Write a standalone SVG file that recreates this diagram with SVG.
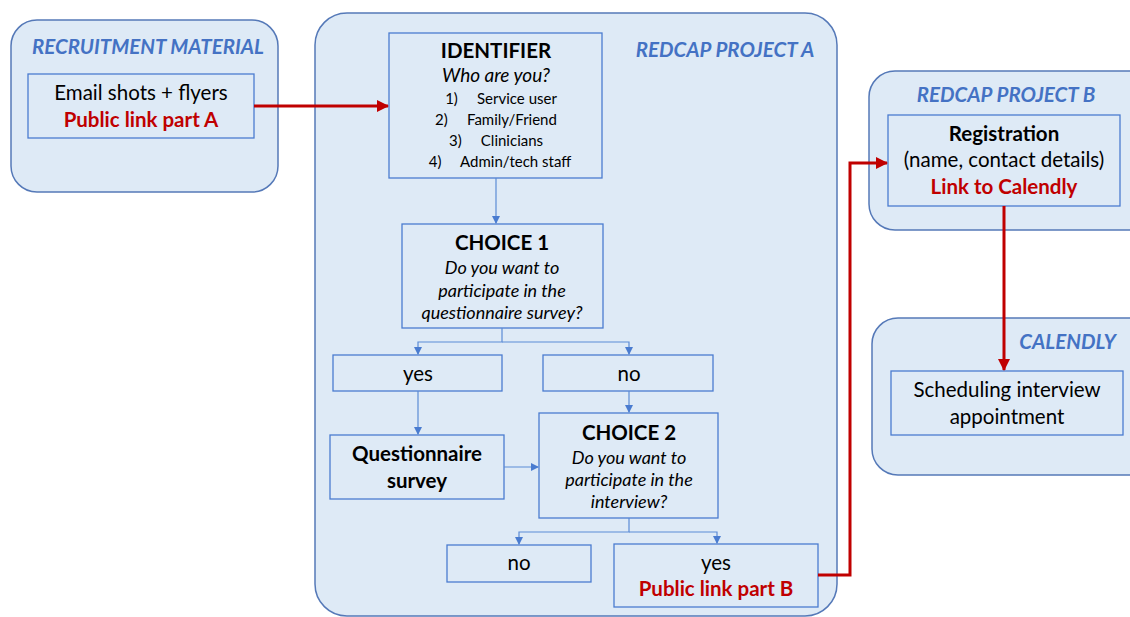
<svg xmlns="http://www.w3.org/2000/svg" width="1130" height="617" viewBox="0 0 1130 617">
<style>
.cont{fill:#DEEAF6;stroke:#5579B8;stroke-width:1.5}
.box{fill:#DEEAF6;stroke:#4A7CD0;stroke-width:1.3}
.t{font-family:Lato,"Open Sans",sans-serif;fill:#000;text-anchor:middle}
.ttl{font-family:Lato,"Open Sans",sans-serif;font-weight:bold;font-style:italic;fill:#4472C4;font-size:20.5px}
.red{fill:#C00000;font-weight:bold}
.b{font-weight:bold}
.i{font-style:italic}
.f{font-size:20.5px}
.q{font-size:18px}
.s{font-size:15px}
.bl{fill:none;stroke:#5B8BD6;stroke-width:1.2}
.rl{fill:none;stroke:#C00000;stroke-width:3}
</style>
<defs>
<marker id="ab" markerWidth="8" markerHeight="8" refX="7" refY="4" orient="auto" markerUnits="userSpaceOnUse"><path d="M0,0 L8,4 L0,8 Z" fill="#4A7CD0"/></marker>
<marker id="ar" markerWidth="12" markerHeight="12" refX="11" refY="6" orient="auto" markerUnits="userSpaceOnUse"><path d="M0,0 L12,6 L0,12 Z" fill="#C00000"/></marker>
</defs>
<rect width="1130" height="617" fill="#fff"/>

<g id="recruitment">
<rect class="cont" x="11" y="20" width="267" height="172" rx="26"/>
<text class="ttl" x="148" y="54" text-anchor="middle">RECRUITMENT MATERIAL</text>
<rect class="box" x="28" y="74" width="226" height="64"/>
<text class="t f" x="141" y="100">Email shots + flyers</text>
<text class="t red f" x="141" y="127">Public link part A</text>
</g>

<g id="projectA">
<rect class="cont" x="315" y="13" width="522" height="603" rx="32"/>
<text class="ttl" x="725" y="57" text-anchor="middle">REDCAP PROJECT A</text>
</g>

<g id="identifier">
<rect class="box" x="389" y="33" width="213" height="145"/>
<text class="t b f" x="496" y="58">IDENTIFIER</text>
<text class="t i" x="496" y="82" font-size="19">Who are you?</text>
<text class="t s" x="501" y="104" xml:space="preserve">1)     Service user</text>
<text class="t s" x="496" y="125" xml:space="preserve">2)     Family/Friend</text>
<text class="t s" x="496" y="146" xml:space="preserve">3)     Clinicians</text>
<text class="t s" x="500" y="167" xml:space="preserve">4)     Admin/tech staff</text>
</g>

<g id="choice1">
<rect class="box" x="402" y="224" width="201" height="104"/>
<text class="t b f" x="502" y="250">CHOICE 1</text>
<text class="t i q" x="502" y="274">Do you want to</text>
<text class="t i q" x="502" y="297">participate in the</text>
<text class="t i q" x="502" y="319">questionnaire survey?</text>
</g>

<g id="yes1">
<rect class="box" x="333" y="355" width="169" height="36"/>
<text class="t f" x="418" y="381">yes</text>
</g>

<g id="no1">
<rect class="box" x="543" y="355" width="170" height="36"/>
<text class="t f" x="629" y="381">no</text>
</g>

<g id="questionnaire">
<rect class="box" x="330" y="435" width="174" height="64"/>
<text class="t b f" x="417" y="461">Questionnaire</text>
<text class="t b f" x="417" y="488">survey</text>
</g>

<g id="choice2">
<rect class="box" x="539" y="413" width="179" height="105"/>
<text class="t b f" x="629" y="440">CHOICE 2</text>
<text class="t i q" x="629" y="464">Do you want to</text>
<text class="t i q" x="629" y="486">participate in the</text>
<text class="t i q" x="629" y="508">interview?</text>
</g>

<g id="no2">
<rect class="box" x="447" y="545" width="144" height="37"/>
<text class="t f" x="519" y="570">no</text>
</g>

<g id="yes2">
<rect class="box" x="614" y="544" width="204" height="63"/>
<text class="t f" x="716" y="570">yes</text>
<text class="t red f" x="716" y="596">Public link part B</text>
</g>

<g id="projectB">
<rect class="cont" x="869" y="71" width="290" height="159" rx="26"/>
<text class="ttl" x="1006" y="102" text-anchor="middle">REDCAP PROJECT B</text>
<rect class="box" x="888" y="115" width="232" height="91"/>
<text class="t b f" x="1004" y="141">Registration</text>
<text class="t f" x="1004" y="167">(name, contact details)</text>
<text class="t red f" x="1004" y="194">Link to Calendly</text>
</g>

<g id="calendly">
<rect class="cont" x="872" y="318" width="290" height="157" rx="26"/>
<text class="ttl" x="1116" y="349" text-anchor="end">CALENDLY</text>
<rect class="box" x="891" y="371" width="232" height="64"/>
<text class="t f" x="1007" y="397">Scheduling interview</text>
<text class="t f" x="1007" y="424">appointment</text>
</g>

<g id="connectors">
<path class="bl" d="M496,178 V223" marker-end="url(#ab)"/>
<path class="bl" d="M502,328 V342 H418 V354" marker-end="url(#ab)"/>
<path class="bl" d="M502,342 H629 V354" marker-end="url(#ab)"/>
<path class="bl" d="M418,391 V434" marker-end="url(#ab)"/>
<path class="bl" d="M629,391 V412" marker-end="url(#ab)"/>
<path class="bl" d="M504,467 H538" marker-end="url(#ab)"/>
<path class="bl" d="M629,518 V532 H519 V544" marker-end="url(#ab)"/>
<path class="bl" d="M629,532 H717 V543" marker-end="url(#ab)"/>
<path class="rl" d="M254,106 H388" marker-end="url(#ar)"/>
<path class="rl" d="M818,575 H850 V163 H887" marker-end="url(#ar)"/>
<path class="rl" d="M1004,206 V370" marker-end="url(#ar)"/>
</g>
</svg>
